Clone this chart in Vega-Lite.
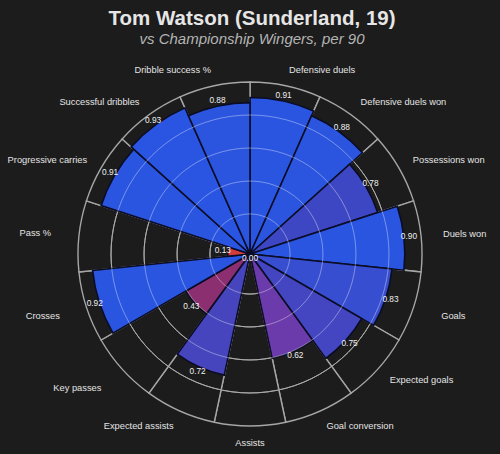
{
  "$schema": "https://vega.github.io/schema/vega-lite/v6.json",
  "width": 500,
  "height": 400,
  "autosize": "none",
  "padding": {"top": 54, "left": 0, "right": 0, "bottom": 0},
  "background": "#1c1c1c",
  "config": {"view": {"stroke": null}},
  "title": {
    "text": "Tom Watson (Sunderland, 19)",
    "subtitle": "vs Championship Wingers, per 90",
    "anchor": "middle",
    "frame": "group",
    "font": "Liberation Sans",
    "fontSize": 20.5,
    "fontWeight": "bold",
    "color": "#e6e6e6",
    "subtitleFont": "Liberation Sans",
    "subtitleFontSize": 15,
    "subtitleFontStyle": "italic",
    "subtitleColor": "#b4b4b4",
    "subtitlePadding": 3,
    "offset": 7,
    "dx": 2
  },
  "datasets": {
    "rings": [{"value": 0.233}, {"value": 0.424}, {"value": 0.616}, {"value": 0.808}]
  },
  "data": {
    "values": [
      {"i": 0, "label": "Defensive duels", "value": 0.91},
      {"i": 1, "label": "Defensive duels won", "value": 0.88},
      {"i": 2, "label": "Possessions won", "value": 0.78},
      {"i": 3, "label": "Duels won", "value": 0.90},
      {"i": 4, "label": "Goals", "value": 0.83},
      {"i": 5, "label": "Expected goals", "value": 0.75},
      {"i": 6, "label": "Goal conversion", "value": 0.62},
      {"i": 7, "label": "Assists", "value": 0.00},
      {"i": 8, "label": "Expected assists", "value": 0.72},
      {"i": 9, "label": "Key passes", "value": 0.43},
      {"i": 10, "label": "Crosses", "value": 0.92},
      {"i": 11, "label": "Pass %", "value": 0.13},
      {"i": 12, "label": "Progressive carries", "value": 0.91},
      {"i": 13, "label": "Successful dribbles", "value": 0.93},
      {"i": 14, "label": "Dribble success %", "value": 0.88}
    ]
  },
  "layer": [
    {
      "mark": {"type": "arc", "radius": 172, "theta2Offset": 0.41888, "fill": "#1c1c1c", "stroke": "#a6a6a6", "strokeWidth": 1.4},
      "encoding": {
        "theta": {"field": "i", "type": "quantitative", "stack": null, "scale": {"domain": [0, 15], "range": [0, 6.2832], "zero": true, "nice": false}},
        "theta2": {"field": "i"}
      }
    },
    {
      "data": {"name": "rings"},
      "mark": {"type": "arc", "filled": false, "stroke": "#808080", "strokeWidth": 1},
      "encoding": {
        "theta": {"value": 0},
        "theta2": {"value": 6.283},
        "radius": {"field": "value", "type": "quantitative", "scale": {"type": "linear", "domain": [0, 1], "range": [0, 172], "zero": true, "nice": false}},
        "radius2": {"field": "value"}
      }
    },
    {
      "mark": {"type": "arc", "theta2Offset": 0.41888, "stroke": "#0b0d26", "strokeWidth": 1.6},
      "encoding": {
        "theta": {"field": "i", "type": "quantitative", "stack": null},
        "theta2": {"field": "i"},
        "radius": {"field": "value", "type": "quantitative", "scale": {"type": "linear", "domain": [0, 1], "range": [0, 172], "zero": true, "nice": false}},
        "color": {
          "field": "value",
          "type": "quantitative",
          "scale": {
            "domain": [0.13, 0.43, 0.62, 0.72, 0.78, 0.88, 0.93],
            "range": ["#d23c3c", "#8c2f70", "#6b3bab", "#4745bd", "#3e47c3", "#2b55df", "#2955e2"]
          },
          "legend": null
        }
      }
    },
    {
      "data": {"name": "rings"},
      "mark": {"type": "arc", "filled": false, "stroke": "#ffffff", "strokeOpacity": 0.2, "strokeWidth": 1},
      "encoding": {
        "theta": {"value": 0},
        "theta2": {"value": 6.283},
        "radius": {"field": "value", "type": "quantitative", "scale": {"type": "linear", "domain": [0, 1], "range": [0, 172], "zero": true, "nice": false}},
        "radius2": {"field": "value"}
      }
    },
    {
      "mark": {"type": "text", "thetaOffset": 0.20944, "radiusOffset": 5, "font": "Liberation Sans", "fontSize": 8.3, "color": "#f0f0f0", "baseline": "middle", "align": "center"},
      "encoding": {
        "theta": {"field": "i", "type": "quantitative", "stack": null},
        "radius": {"field": "value", "type": "quantitative", "scale": {"type": "linear", "domain": [0, 1], "range": [0, 172], "zero": true, "nice": false}},
        "text": {"field": "value", "type": "quantitative", "format": ".2f"}
      }
    },
    {
      "transform": [{"filter": "datum.i <= 2 || datum.i == 5 || datum.i == 6"}],
      "mark": {"type": "text", "radius": 188, "thetaOffset": 0.20944, "font": "Liberation Sans", "fontSize": 9.3, "color": "#e4e4e4", "baseline": "middle", "align": "left"},
      "encoding": {
        "theta": {"field": "i", "type": "quantitative", "stack": null},
        "text": {"field": "label"}
      }
    },
    {
      "transform": [{"filter": "datum.i == 3"}],
      "mark": {"type": "text", "radius": 194, "thetaOffset": 0.20944, "font": "Liberation Sans", "fontSize": 9.3, "color": "#e4e4e4", "baseline": "middle", "align": "left"},
      "encoding": {
        "theta": {"field": "i", "type": "quantitative", "stack": null},
        "text": {"field": "label"}
      }
    },
    {
      "transform": [{"filter": "datum.i == 4"}],
      "mark": {"type": "text", "radius": 201, "thetaOffset": 0.20944, "font": "Liberation Sans", "fontSize": 9.3, "color": "#e4e4e4", "baseline": "middle", "align": "left"},
      "encoding": {
        "theta": {"field": "i", "type": "quantitative", "stack": null},
        "text": {"field": "label"}
      }
    },
    {
      "transform": [{"filter": "datum.i == 7"}],
      "mark": {"type": "text", "radius": 189, "thetaOffset": 0.20944, "font": "Liberation Sans", "fontSize": 9.3, "color": "#e4e4e4", "baseline": "middle", "align": "center"},
      "encoding": {
        "theta": {"field": "i", "type": "quantitative", "stack": null},
        "text": {"field": "label"}
      }
    },
    {
      "transform": [{"filter": "datum.i >= 9 && datum.i <= 11"}],
      "mark": {"type": "text", "radius": 200, "thetaOffset": 0.20944, "font": "Liberation Sans", "fontSize": 9.3, "color": "#e4e4e4", "baseline": "middle", "align": "right"},
      "encoding": {
        "theta": {"field": "i", "type": "quantitative", "stack": null},
        "text": {"field": "label"}
      }
    },
    {
      "transform": [{"filter": "datum.i == 8 || datum.i >= 12"}],
      "mark": {"type": "text", "radius": 188, "thetaOffset": 0.20944, "font": "Liberation Sans", "fontSize": 9.3, "color": "#e4e4e4", "baseline": "middle", "align": "right"},
      "encoding": {
        "theta": {"field": "i", "type": "quantitative", "stack": null},
        "text": {"field": "label"}
      }
    }
  ]
}
